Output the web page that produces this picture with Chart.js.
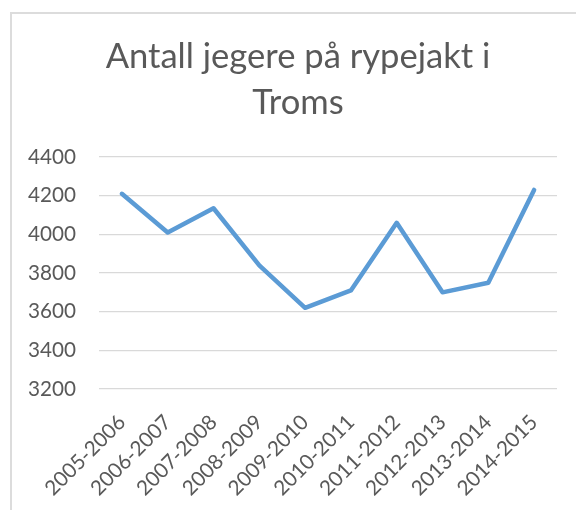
<!DOCTYPE html>
<html>
<head>
<meta charset="utf-8">
<script src="https://cdn.jsdelivr.net/npm/chart.js@4/dist/chart.umd.min.js"></script>
<style>
  html, body { margin: 0; padding: 0; background: #ffffff; overflow: hidden; width: 576px; height: 510px; }
  #frame { position: absolute; left: 10px; top: 12px; width: 700px; height: 600px; border: 2px solid #dcdcdc; box-sizing: border-box; }
  #c { position: absolute; left: 0; top: 0; }
</style>
</head>
<body>
<div id="frame"></div>
<canvas id="c" width="586" height="510"></canvas>
<script>
const titleLines = ['Antall jegere på rypejakt i', 'Troms'];
const seasons = ['2005-2006', '2006-2007', '2007-2008', '2008-2009', '2009-2010',
                 '2010-2011', '2011-2012', '2012-2013', '2013-2014', '2014-2015'];
const hunters = [4210, 4010, 4135, 3840, 3620, 3710, 4060, 3700, 3750, 4230];
const yMin = 3200;
const yMax = 4400;
const yStep = 200;

const textColor = '#595959';
const gridColor = '#d9d9d9';

new Chart(document.getElementById('c'), {
  type: 'line',
  data: {
    labels: seasons,
    datasets: [{
      data: hunters,
      borderColor: '#5B9BD5',
      backgroundColor: '#5B9BD5',
      borderWidth: 4.5,
      tension: 0,
      pointRadius: 0,
      pointHoverRadius: 0,
      borderCapStyle: 'round',
      borderJoinStyle: 'round',
      fill: false
    }]
  },
  options: {
    responsive: false,
    animation: false,
    devicePixelRatio: 1,
    layout: { padding: { left: 10, right: 0, top: 0, bottom: 0 } },
    plugins: {
      legend: { display: false },
      tooltip: { enabled: false },
      title: {
        display: true,
        text: titleLines,
        color: textColor,
        font: { family: 'Lato', size: 34.6, weight: 'normal', lineHeight: 1.33 },
        padding: { top: 33.5, bottom: 31.5 }
      }
    },
    scales: {
      x: {
        offset: true,
        grid: { display: false, drawTicks: false },
        border: { display: false },
        ticks: {
          color: textColor,
          font: { family: 'Lato', size: 20.7 },
          minRotation: 45,
          maxRotation: 45,
          autoSkip: false,
          padding: 21
        },
        afterFit: s => { s.height = 121; }
      },
      y: {
        min: yMin,
        max: yMax,
        grid: { color: gridColor, lineWidth: 1.3, drawTicks: false },
        border: { display: false },
        ticks: {
          stepSize: yStep,
          color: textColor,
          font: { family: 'Lato', size: 20.7 },
          padding: 23,
          callback: v => String(v)
        },
        afterFit: s => { s.width = 89; }
      },
      yPad: {
        position: 'right',
        display: true,
        min: yMin,
        max: yMax,
        grid: { display: false, drawTicks: false },
        border: { display: false },
        ticks: { display: false },
        afterFit: s => { s.width = 29; }
      }
    }
  }
});
</script>
</body>
</html>
